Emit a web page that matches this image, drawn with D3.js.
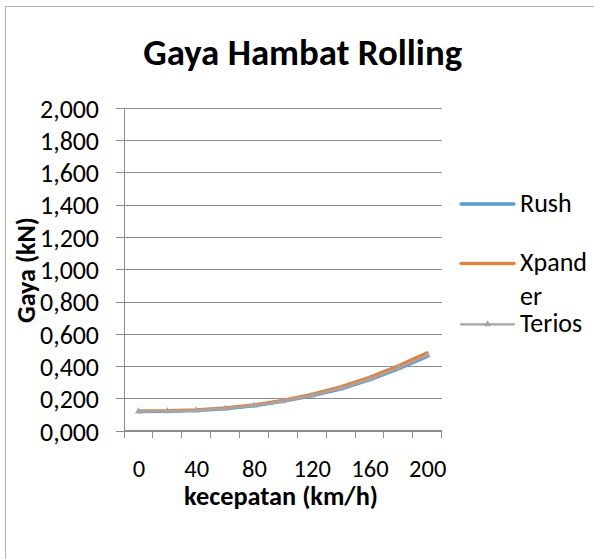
<!DOCTYPE html>
<html><head><meta charset="utf-8">
<script src="https://cdn.jsdelivr.net/npm/d3@7"></script>
<style>body{margin:0;background:#fff}svg{display:block}</style>
</head><body>
<script>
// ---- data ----
const categories = [0, 20, 40, 60, 80, 100, 120, 140, 160, 180, 200];
const xTickLabels = ["0", "40", "80", "120", "160", "200"];
const yTicks = [0, 0.2, 0.4, 0.6, 0.8, 1.0, 1.2, 1.4, 1.6, 1.8, 2.0];
const seriesNames = ["Rush", "Xpander", "Terios"];
const rush    = [0.118, 0.119, 0.124, 0.135, 0.153, 0.180, 0.214, 0.257, 0.313, 0.382, 0.458];
const xpander = [0.124, 0.125, 0.130, 0.142, 0.161, 0.189, 0.226, 0.272, 0.331, 0.403, 0.483];
const terios  = [0.120, 0.121, 0.126, 0.137, 0.156, 0.183, 0.218, 0.262, 0.319, 0.389, 0.467];
const seriesColors = ["#5B9BD5", "#ED7D31", "#A5A5A5"];
const titleText = "Gaya Hambat Rolling";
const xTitle = "kecepatan (km/h)";
const yTitle = "Gaya (kN)";

// ---- layout ----
const W = 594, H = 559;
const FONT = "Carlito, Lato, 'Open Sans', sans-serif";
const plot = {left: 124, right: 441.7, top: 107.7, bottom: 430.7};
const gridColor = "#8c8c8c";

const svg = d3.select("body").append("svg").attr("width", W).attr("height", H)
  .style("font-family", FONT);

svg.append("rect").attr("x", 5.5).attr("y", 6.5).attr("width", 800).attr("height", 800)
  .attr("fill", "#fff").attr("stroke", "#b4b4b4").attr("stroke-width", 1);

function fit(sel, target, base) {
  sel.attr("font-size", base);
  const w = sel.node().getComputedTextLength();
  const fs = base * target / w;
  sel.attr("font-size", fs);
  return fs;
}
function measureSize(str, target, weight) {
  const t = svg.append("text").text(str).attr("font-weight", weight || "normal");
  const fs = fit(t, target, 20);
  t.remove();
  return fs;
}

const x = d3.scalePoint().domain(categories).range([plot.left, plot.right]).padding(0.5);
const xBand = d3.scaleBand().domain(categories).range([plot.left, plot.right]);
const y = d3.scaleLinear().domain([0, 2]).range([plot.bottom, plot.top]);
const fmt = v => d3.format(".3f")(v).replace(".", ",");

// gridlines
svg.append("g").attr("transform", `translate(${plot.left},0)`)
  .call(d3.axisLeft(y).tickValues(yTicks).tickSize(-(plot.right - plot.left)).tickFormat(""))
  .call(g => g.select(".domain").remove())
  .call(g => g.selectAll("line").attr("stroke", gridColor).attr("shape-rendering", "crispEdges"));

// y axis
const yFs = measureSize("1,600", 59);
const yAxis = svg.append("g").attr("transform", `translate(${plot.left},0)`)
  .call(d3.axisLeft(y).tickValues(yTicks).tickSizeInner(8).tickSizeOuter(0).tickPadding(17).tickFormat(fmt));
yAxis.select(".domain").attr("stroke", gridColor).attr("shape-rendering", "crispEdges");
yAxis.selectAll("line").attr("stroke", gridColor).attr("shape-rendering", "crispEdges");
yAxis.selectAll("text").attr("font-size", yFs).attr("font-family", FONT).attr("fill", "#000").attr("dy", "0.36em");

// x axis line + boundary ticks
const xAxisG = svg.append("g");
xAxisG.append("line").attr("x1", plot.left).attr("x2", plot.right).attr("y1", plot.bottom).attr("y2", plot.bottom)
  .attr("stroke", gridColor).attr("shape-rendering", "crispEdges");
xAxisG.selectAll("line.tk").data(d3.range(categories.length + 1)).join("line").attr("class", "tk")
  .attr("x1", i => plot.left + i * xBand.step()).attr("x2", i => plot.left + i * xBand.step())
  .attr("y1", plot.bottom).attr("y2", plot.bottom + 7)
  .attr("stroke", gridColor).attr("shape-rendering", "crispEdges");

// x tick labels
const xFs = measureSize("120", 37.3);
const labeled = categories.filter((c, i) => i % 2 === 0);
const xAx = svg.append("g").attr("transform", `translate(0,${plot.bottom})`)
  .call(d3.axisBottom(x).tickValues(labeled).tickSize(0).tickFormat((d, i) => xTickLabels[i]));
xAx.select(".domain").remove();
xAx.selectAll("text").attr("font-size", xFs).attr("font-family", FONT).attr("fill", "#000")
  .attr("y", 46).attr("dy", 0);

// series
const seriesData = [rush, xpander, terios];
const line = d3.line().x((d, i) => x(categories[i])).y(d => y(d)).curve(d3.curveLinear);
const widths = [3, 3, 2.6];
seriesData.forEach((vals, s) => {
  svg.append("path").datum(vals).attr("d", line).attr("fill", "none")
    .attr("stroke", seriesColors[s]).attr("stroke-width", widths[s])
    .attr("stroke-linejoin", "round").attr("stroke-linecap", "round");
});
const tri = d3.symbol(d3.symbolTriangle, 22);
svg.append("g").selectAll("path").data(terios).join("path")
  .attr("d", tri).attr("transform", (d, i) => `translate(${x(categories[i])},${y(d)})`)
  .attr("fill", seriesColors[2]);

// title
const title = svg.append("text").text(titleText).attr("font-weight", "bold")
  .attr("text-anchor", "middle").attr("x", 302.7).attr("y", 65).attr("fill", "#000");
fit(title, 319, 30);

// axis titles
const xt = svg.append("text").text(xTitle).attr("font-weight", "bold")
  .attr("text-anchor", "middle").attr("x", 281).attr("y", 505).attr("fill", "#000");
fit(xt, 194, 20);
const yt = svg.append("text").text(yTitle).attr("font-weight", "bold")
  .attr("text-anchor", "middle").attr("transform", "translate(35,270) rotate(-90)").attr("fill", "#000");
fit(yt, 106, 20);

// legend
const legFs = measureSize("Terios", 62.3);
const legendLayout = [
  {lineY: 204, lines: [["Rush", 212.3]]},
  {lineY: 263.3, lines: [["Xpand", 270.7], ["er", 305]]},
  {lineY: 324.3, lines: [["Terios", 331.7]]}
];
const leg = svg.append("g");
seriesNames.forEach((name, s) => {
  const L = legendLayout[s];
  leg.append("line").attr("x1", 461).attr("x2", 514).attr("y1", L.lineY).attr("y2", L.lineY)
    .attr("stroke", seriesColors[s]).attr("stroke-width", s === 2 ? 2.2 : 3.3).attr("stroke-linecap", "round");
  if (s === 2) {
    leg.append("path").attr("d", tri).attr("transform", `translate(487.5,${L.lineY})`).attr("fill", seriesColors[s]);
  }
  L.lines.forEach(([txt, by]) => {
    leg.append("text").text(txt).attr("x", 520).attr("y", by).attr("font-size", legFs).attr("fill", "#000");
  });
});
</script>
</body></html>
